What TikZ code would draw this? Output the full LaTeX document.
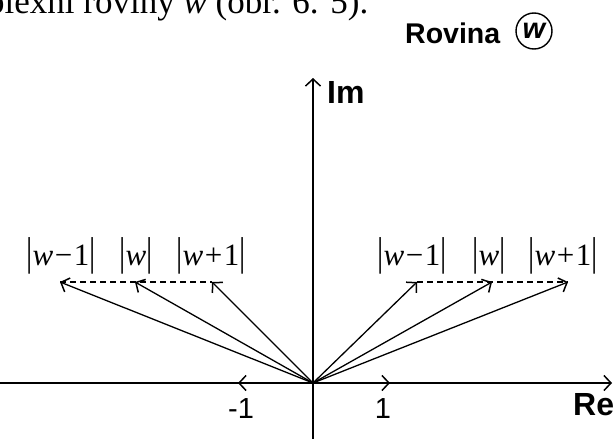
\documentclass[tikz,border=0pt]{standalone}
\usepackage{fontspec}
\setmainfont{Liberation Serif}
\setsansfont{Liberation Sans}
\usetikzlibrary{arrows.meta}
\newcommand{\vbar}{\scalebox{1}[1.3]{|}}
\newcommand{\abslab}[1]{\vbar#1\vbar}
\newcommand{\labsp}{\kern0.05em}
\begin{document}
\begin{tikzpicture}[x=1pt,y=-1pt,
  tip/.style={-{Straight Barb[length=7pt,width=15pt,line width=1.5pt]}},
  axis/.style={line width=1.5pt},
  vec/.style={line width=1.3pt,tip},
  dsh/.style={line width=1.2pt,dash pattern=on 6pt off 4pt},
  lab/.style={font=\fontsize{31}{36}\selectfont, inner sep=0pt, anchor=base},
  axlab/.style={font=\sffamily\bfseries\fontsize{32}{36}\selectfont, inner sep=0pt, anchor=base west},
  num/.style={font=\sffamily\fontsize{29}{32}\selectfont, inner sep=0pt, anchor=base}]
\useasboundingbox (0,0) rectangle (614,439);
\clip (0,0) rectangle (614,439);
% top (cropped) line of text
\node[font=\fontsize{35}{40}\selectfont, inner sep=0pt, anchor=base west] (top) at (-13,13) {plexní roviny \textit{w} (obr. 6. 5).};
% title
\node[font=\sffamily\bfseries\fontsize{28.5}{32}\selectfont, inner sep=0pt, anchor=base west] (rov) at (405,43) {Rovina};
\node[draw, circle, line width=1.4pt, minimum size=36pt, inner sep=0pt,
      font=\sffamily\bfseries\itshape\fontsize{29}{32}\selectfont] (cw) at (534,31) {w};
% axes
\coordinate (O) at (313,383);
\coordinate (ReW) at (0,383);
\coordinate (ReE) at (612,383);
\coordinate (ImS) at (313,439);
\coordinate (ImN) at (313,78);
\draw[axis,tip] (ReW) -- (ReE);
\draw[axis,tip] (ImS) -- (ImN);
\coordinate (M1) at (238,383);
\coordinate (P1) at (390,383);
\draw[axis,tip] (O) -- (M1);
\draw[axis,tip] (O) -- (P1);
\node[axlab] (Im) at (327,103) {Im};
\node[axlab] (Re) at (573,415) {Re};
\node[num] (nm1) at (241,418) {-1};
\node[num] (np1) at (383,418) {1};
% vectors
\coordinate (L1) at (60,282);
\coordinate (L2) at (135,282);
\coordinate (L3) at (212,282);
\coordinate (R1) at (417,282);
\coordinate (R2) at (492,282);
\coordinate (R3) at (568,282);
\draw[dsh] (L1) -- (L3);
\draw[dsh] (R1) -- (R3);
\foreach \t in {L1,L2,L3,R1,R2,R3}{\draw[vec] (O) -- (\t);}
% labels
\node[lab] (lw1) at (61,265) {\abslab{\textit{w}\labsp−\labsp1}};
\node[lab] (lw2) at (136,265) {\abslab{\textit{w}}};
\node[lab] (lw3) at (211,265) {\abslab{\textit{w}\labsp+\labsp1}};
\node[lab] (rw1) at (412,265) {\abslab{\textit{w}\labsp−\labsp1}};
\node[lab] (rw2) at (489,265) {\abslab{\textit{w}}};
\node[lab] (rw3) at (563,265) {\abslab{\textit{w}\labsp+\labsp1}};
\end{tikzpicture}
\end{document}
